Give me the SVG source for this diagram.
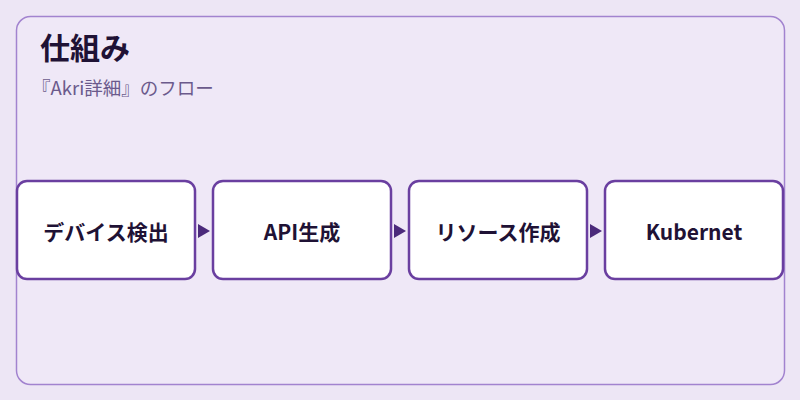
<svg xmlns="http://www.w3.org/2000/svg" width="800" height="400" viewBox="0 0 800 400">
<style>
.node rect{fill:#fff;stroke:#6a3fa0;stroke-width:2.5}
.node text{font-family:"Noto Sans CJK JP","Noto Sans",sans-serif;font-size:21px;font-weight:700;fill:#1f1235;text-anchor:middle;dominant-baseline:central}
.arr{fill:#4b2a7b}
</style>
<rect width="800" height="400" fill="#ede6f5"/>
<rect x="16.5" y="16.5" width="768" height="368" rx="14" fill="#efe8f7" stroke="#a283cf" stroke-width="1.5"/>
<text x="40" y="59" font-family="Noto Sans CJK JP,sans-serif" font-size="30" font-weight="700" fill="#1f1235">仕組み</text>
<text x="32" y="95" font-family="Noto Sans CJK JP,sans-serif" font-size="18.5" fill="#6b5a8c">『Akri詳細』のフロー</text>
<g id="n1" class="node"><rect x="17" y="181" width="178" height="98" rx="10"/><text x="106" y="231">デバイス検出</text></g>
<g id="n2" class="node"><rect x="213" y="181" width="178" height="98" rx="10"/><text x="302" y="231">API生成</text></g>
<g id="n3" class="node"><rect x="409" y="181" width="178" height="98" rx="10"/><text x="498" y="231">リソース作成</text></g>
<g id="n4" class="node"><rect x="605" y="181" width="178" height="98" rx="10"/><text x="694" y="231">Kubernet</text></g>
<g id="connectors">
<polygon class="arr" points="198,224 210,231 198,238"/>
<polygon class="arr" points="394,224 406,231 394,238"/>
<polygon class="arr" points="590,224 602,231 590,238"/>
</g>
</svg>
